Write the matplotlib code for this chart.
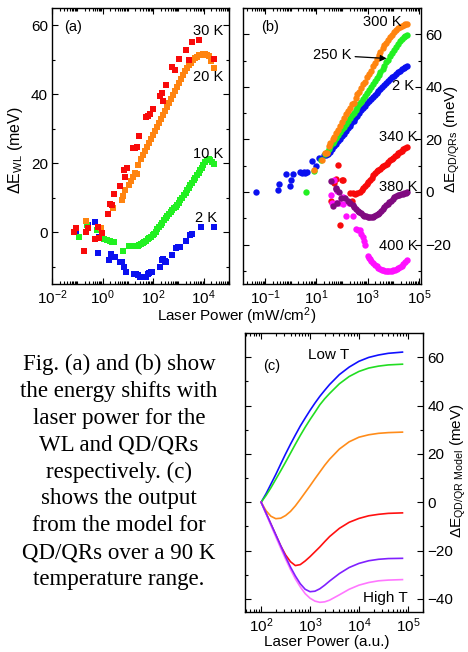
import numpy as np
import matplotlib
matplotlib.use("Agg")
import matplotlib.pyplot as plt
from matplotlib.ticker import FixedLocator, LogLocator, NullFormatter, MultipleLocator

plt.rcParams['font.family'] = ['Liberation Sans', 'DejaVu Sans']
plt.rcParams['mathtext.fontset'] = 'custom'
plt.rcParams['mathtext.rm'] = 'Liberation Sans'
plt.rcParams['mathtext.it'] = 'Liberation Sans:italic'
plt.rcParams['mathtext.default'] = 'regular'

# ---------------- Panel (a): WL shifts (log10 power, meV) ----------------
a30_logp = [-1.13, -1.06, -0.73, -0.67, -0.59, -0.29, -0.18, -0.16, -0.01, 0.22, 0.30, 0.38, 0.46, 0.69,
            0.84, 0.88, 0.98, 1.20, 1.29, 1.37, 1.44, 1.71, 1.80, 1.87, 2.00, 2.27, 2.34, 2.39, 2.50,
            2.75, 2.85, 3.02, 3.28, 3.42, 3.52, 3.83, 4.42]
a30_dE = [0.1, 1.1, -5.4, 0.2, 1.2, -2.1, 1.5, -1.8, -0.3, 5.2, 8.1, 7.8, 11.1, 13.4,
          17.9, 16.1, 18.7, 24.4, 24.5, 24.8, 27.9, 33.3, 33.6, 34.3, 35.8, 39.5, 40.3, 37.9, 42.6,
          47.8, 47.0, 50.3, 52.8, 50.0, 55.0, 55.7, 50.3]

a20_logp = [-0.65, -0.07, 0.42, 0.77, 0.81, 0.90, 1.03, 1.11, 1.20, 1.29, 1.36, 1.42, 1.50, 1.58,
            1.66, 1.74, 1.82, 1.90, 1.98, 2.06, 2.14, 2.22, 2.30, 2.38, 2.46, 2.54, 2.62, 2.70,
            2.78, 2.86, 2.94, 3.02, 3.10, 3.18, 3.26, 3.34, 3.42, 3.50, 3.58, 3.66, 3.74, 3.82,
            3.90, 3.98, 4.06, 4.14, 4.22, 4.30, 4.40]
a20_dE = [3.3, 1.2, 6.9, 9.3, 10.4, 12.2, 13.6, 14.9, 16.0, 17.2, 17.0, 19.4, 21.2, 22.4,
          23.6, 24.7, 25.9, 27.0, 28.2, 29.3, 30.5, 31.7, 32.8, 34.0, 35.1, 36.3, 37.5, 38.6,
          39.8, 40.9, 42.1, 43.2, 44.4, 45.5, 46.6, 47.6, 48.5, 49.2, 49.9, 50.4, 50.9, 51.3,
          51.5, 51.7, 51.7, 51.5, 51.0, 49.5, 47.6]

a10_logp = [-0.93, -0.61, -0.22, 0.04, 0.17, 0.30, 0.38, 0.44, 0.80, 1.06, 1.14, 1.22, 1.30, 1.39,
            1.46, 1.52, 1.58, 1.65, 1.72, 1.78, 1.85, 1.91, 1.98, 2.04, 2.11, 2.17, 2.24, 2.30,
            2.37, 2.43, 2.50, 2.56, 2.63, 2.69, 2.76, 2.82, 2.89, 2.95, 3.02, 3.08, 3.15, 3.21,
            3.28, 3.34, 3.41, 3.47, 3.54, 3.60, 3.67, 3.73, 3.80, 3.86, 3.93, 3.99, 4.05, 4.12,
            4.19, 4.26, 4.33, 4.40]
a10_dE = [-1.4, 2.0, 0.7, -1.9, -2.2, -2.5, -2.9, -2.8, -5.5, -4.1, -4.0, -4.0, -4.0, -4.1,
          -3.8, -3.5, -3.2, -2.8, -2.5, -2.1, -1.7, -1.35, -0.9, -0.4, 0.2, 0.8, 1.4, 2.0,
          2.8, 3.5, 4.0, 4.6, 5.3, 5.9, 6.4, 6.9, 7.4, 7.8, 8.6, 9.3, 10.0, 10.7,
          11.5, 12.2, 12.9, 13.6, 14.4, 15.1, 15.8, 16.5, 17.3, 18.0, 18.7, 19.4, 20.3, 21.0,
          21.2, 21.0, 20.4, 19.7]

a2_logp = [-1.06, -0.56, -0.30, -0.17, -0.13, 0.26, 0.35, 0.48, 0.68, 0.78, 0.85, 0.94, 1.23, 1.32,
           1.40, 1.48, 1.71, 1.78, 1.84, 1.90, 1.97, 2.27, 2.35, 2.39, 2.45, 2.50, 2.76, 2.89,
           2.98, 3.06, 3.31, 3.45, 3.54, 3.91, 4.42]
a2_dE = [0.0, 2.0, 3.0, -6.0, -1.5, -8.1, -6.4, -7.1, -8.6, -8.6, -10.2, -11.5, -12.0, -12.1,
         -12.4, -12.9, -12.9, -12.0, -11.7, -11.6, -11.5, -10.0, -8.0, -7.7, -8.3, -8.6, -6.6, -4.6,
         -4.4, -4.2, -2.4, -0.9, -0.6, 1.4, 1.4]

# ---------------- Panel (b): QD/QR shifts ----------------
b2_logp = [-1.35, -0.48, -0.44, -0.03, 0.0, -0.18, 0.10, 0.36, 0.43, 0.50, 0.55, 0.62, 0.83, 0.99, 1.12,
           1.30, 1.38, 1.47, 1.55, 1.62, 1.70, 1.77, 1.85, 1.92, 2.00, 2.07, 2.15, 2.22, 2.30, 2.37,
           2.45, 2.52, 2.60, 2.67, 2.75, 2.82, 2.90, 2.97, 3.05, 3.12, 3.20, 3.27, 3.35, 3.42,
           3.50, 3.57, 3.65, 3.72, 3.80, 3.87, 3.95, 4.02, 4.10, 4.17, 4.25, 4.32, 4.40, 4.47, 4.52]
b2_dE = [0.0, 0.75, 2.9, 2.3, 4.5, 6.7, 6.7, 7.5, 7.3, 7.6, 7.2, 7.5, 11.7, 9.9, 13.1,
         14.0, 14.2, 14.3, 15.4, 16.3, 17.4, 18.3, 19.3, 20.2, 21.3, 22.2, 23.2, 24.2, 25.2, 26.1,
         27.2, 28.1, 29.1, 30.1, 31.1, 32.0, 32.9, 33.7, 34.5, 35.2, 36.1, 36.8, 37.7, 38.4,
         39.3, 40.0, 40.8, 41.4, 42.1, 42.8, 43.6, 44.2, 44.9, 45.5, 46.2, 46.8, 47.3, 47.6, 48.0]

b250_logp = [0.60, 0.92, 1.17, 1.33, 1.40, 1.48, 1.55, 1.63, 1.70, 1.78, 1.85, 1.93, 2.00, 2.08, 2.15,
             2.23, 2.30, 2.38, 2.45, 2.53, 2.60, 2.68, 2.75, 2.83, 2.90, 2.98, 3.05, 3.13, 3.20,
             3.28, 3.35, 3.43, 3.50, 3.58, 3.65, 3.73, 3.80, 3.88, 3.95, 4.03, 4.10, 4.18, 4.25,
             4.33, 4.40, 4.47, 4.52]
b250_dE = [0.0, 8.0, 12.1, 14.5, 15.3, 16.4, 17.4, 18.5, 19.5, 20.7, 21.7, 22.8, 23.8, 24.9, 25.9,
           27.0, 28.0, 29.2, 30.2, 31.3, 32.3, 33.4, 34.4, 35.5, 36.6, 37.7, 38.8, 40.0, 41.1,
           42.3, 43.4, 44.6, 45.6, 46.9, 48.0, 49.3, 50.4, 51.6, 52.7, 53.9, 55.0, 56.2, 57.3,
           58.3, 59.0, 59.5, 59.7]

b300_logp = [0.91, 1.22, 1.40, 1.33, 1.48, 1.55, 1.63, 1.70, 1.78, 1.85, 1.93, 2.00, 2.08, 2.15, 2.23,
             2.30, 2.38, 2.45, 2.53, 2.60, 2.68, 2.75, 2.83, 2.90, 2.98, 3.05, 3.13, 3.20, 3.28,
             3.35, 3.43, 3.50, 3.58, 3.65, 3.73, 3.80, 3.88, 3.95, 4.03, 4.10, 4.18, 4.25, 4.33,
             4.40, 4.47, 4.52]
b300_dE = [8.3, 12.1, 14.8, 15.0, 17.5, 18.8, 20.0, 21.0, 22.5, 23.5, 25.2, 26.8, 28.0, 29.5, 30.8,
           31.8, 33.5, 34.0, 35.8, 37.2, 38.2, 39.5, 41.0, 42.0, 43.6, 45.0, 46.2, 47.8, 49.2,
           50.6, 52.0, 53.2, 54.6, 55.8, 56.8, 57.8, 58.9, 59.9, 60.9, 61.7, 62.4, 62.9, 63.3,
           63.6, 63.8, 63.8]

b340_logp = [1.58, 1.68, 1.77, 1.84, 1.91, 2.01, 2.05, 2.38, 2.31, 2.42, 2.51, 2.60, 2.70, 2.77, 2.83,
             2.90, 2.96, 3.03, 3.09, 3.16, 3.22, 3.29, 3.35, 3.42, 3.48, 3.55, 3.61, 3.68, 3.74,
             3.80, 3.87, 3.93, 4.00, 4.06, 4.13, 4.19, 4.26, 4.32, 4.39, 4.45, 4.52]
b340_dE = [-3.6, 3.5, 5.0, 10.2, -12.7, 4.5, 4.5, -3.4, -0.5, -0.5, -0.8, -0.5, 0.1, 0.8, 1.4,
           2.2, 3.0, 3.9, 4.7, 5.5, 6.4, 7.2, 7.8, 8.4, 8.9, 9.5, 10.0, 10.4, 10.8,
           11.4, 12.0, 12.6, 13.1, 13.6, 14.2, 14.7, 15.2, 15.7, 16.2, 16.7, 17.1]

b380_logp = [1.58, 1.65, 1.75, 1.77, 1.82, 1.90, 1.95, 2.12, 2.25, 2.33, 2.42, 2.48, 2.55, 2.61, 2.68,
             2.74, 2.81, 2.87, 2.94, 3.00, 3.07, 3.13, 3.20, 3.26, 3.33, 3.39, 3.46, 3.52, 3.59,
             3.65, 3.72, 3.78, 3.85, 3.91, 3.98, 4.04, 4.11, 4.17, 4.24, 4.30, 4.37, 4.43, 4.50, 4.54]
b380_dE = [4.3, -5.3, 1.4, 1.0, -4.3, 0.1, -2.4, -2.4, -3.6, -4.3, -4.9, -5.8, -6.5, -7.1, -7.7,
           -8.0, -8.6, -9.0, -9.3, -9.6, -9.7, -9.7, -9.5, -9.2, -8.8, -8.3, -7.8, -7.1, -6.5,
           -5.8, -5.1, -4.6, -3.9, -3.3, -2.6, -2.0, -1.6, -1.3, -1.0, -0.8, -0.6, -0.4, -0.2, -0.1]

b400_logp = [1.68, 1.58, 1.62, 1.82, 1.77, 1.90, 2.04, 2.05, 2.16, 2.29, 2.44, 2.55, 2.62, 2.70, 2.76,
             2.81, 2.86, 2.90, 3.00, 3.04, 3.09, 3.15, 3.22, 3.28, 3.35, 3.41, 3.48, 3.54, 3.61,
             3.67, 3.74, 3.80, 3.87, 3.93, 4.00, 4.06, 4.13, 4.19, 4.26, 4.32, 4.39, 4.45, 4.52]
b400_dE = [4.5, -1.1, -4.2, 0.5, -4.3, -4.3, -4.5, -1.8, -9.1, -4.3, -9.3, -14.1, -14.3, -14.6, -16.0,
           -17.1, -18.5, -20.0, -24.4, -25.0, -25.4, -26.2, -26.9, -27.6, -28.2, -28.8, -29.2, -29.5, -29.8,
           -30.0, -30.1, -30.1, -30.1, -30.0, -29.8, -29.5, -29.2, -28.9, -28.6, -28.1, -27.5, -26.8, -25.7]

# ---------------- Panel (c): model curves ----------------
c_logp = [2.0, 2.1, 2.2, 2.3, 2.4, 2.5, 2.6, 2.7, 2.8, 2.9, 3.0, 3.1, 3.2, 3.3, 3.4, 3.6, 3.8, 4.0,
          4.2, 4.4, 4.6, 4.89]
c_blue = [0, 3.5, 7.5, 11.5, 15.8, 20.0, 24.0, 27.8, 31.5, 34.8, 38.0, 41.0, 43.8, 46.3, 48.7, 52.8,
          55.9, 58.3, 59.9, 60.9, 61.6, 62.1]
c_green = [0, 2.8, 6.0, 9.5, 13.0, 16.6, 20.3, 24.0, 27.6, 31.0, 34.2, 37.2, 40.3, 42.8, 45.0, 49.0,
           52.0, 54.1, 55.5, 56.3, 56.8, 57.1]
c_orange = [0, -3.5, -5.8, -6.8, -6.6, -5.5, -3.8, -1.5, 1.2, 4.0, 6.8, 9.7, 12.5, 15.3, 17.8, 22.0,
            25.0, 26.9, 27.9, 28.5, 28.8, 29.0]
c_red = [0, -4.5, -9.0, -13.5, -18.0, -21.8, -24.6, -26.2, -25.8, -24.3, -22.5, -20.5, -18.5, -16.3,
         -14.2, -10.8, -8.3, -6.7, -5.6, -5.0, -4.6, -4.4]
c_violet = [0, -4.5, -9.0, -13.5, -18.0, -22.5, -26.8, -30.5, -33.7, -36.0, -37.0, -36.8, -35.8, -34.3,
            -32.6, -29.5, -27.0, -25.3, -24.2, -23.6, -23.3, -23.2]
c_pink = [0, -4.8, -9.6, -14.3, -19.0, -23.5, -27.8, -31.7, -35.0, -37.8, -39.7, -40.9, -41.4, -41.2,
          -40.5, -38.3, -36.0, -34.3, -33.2, -32.5, -32.2, -32.0]

W, H = 468, 652
fig = plt.figure(figsize=(W / 100, H / 100), dpi=100)


def ax_at(l, t, r, b):
    return fig.add_axes([l / W, 1 - b / H, (r - l) / W, (b - t) / H])


def style(ax, majors, ylim, ymaj):
    ax.set_xscale('log')
    ax.xaxis.set_major_locator(FixedLocator(majors))
    ax.xaxis.set_minor_locator(LogLocator(base=10, subs=np.arange(1, 10), numticks=100))
    ax.xaxis.set_minor_formatter(NullFormatter())
    ax.set_ylim(*ylim)
    ax.yaxis.set_major_locator(MultipleLocator(ymaj))
    ax.yaxis.set_minor_locator(MultipleLocator(ymaj / 2))
    ax.tick_params(which='both', direction='in', top=True, right=True, left=True, bottom=True,
                   labelsize=11, width=0.8, pad=3)
    ax.tick_params(which='major', length=4)
    ax.tick_params(which='minor', length=2)
    for s in ax.spines.values():
        s.set_linewidth(1.0)


P = lambda v: 10 ** np.asarray(v)
LBL = 11

# (a)
axa = ax_at(52, 8, 229, 284)
style(axa, [1e-2, 1e0, 1e2, 1e4], (-15, 65), 20)
axa.set_xlim(1e-2, 1e5)
ms_a = 4.3
axa.plot(P(a2_logp), a2_dE, 's', color='#0a10f0', ms=ms_a, mew=0)
axa.plot(P(a10_logp), a10_dE, 's', color='#22f022', ms=ms_a, mew=0)
axa.plot(P(a20_logp), a20_dE, 's', color='#ff8410', ms=ms_a, mew=0)
axa.plot(P(a30_logp), a30_dE, 's', color='#f80a0a', ms=ms_a, mew=0)
axa.text(0.12, 0.93, '(a)', transform=axa.transAxes, fontsize=10.5, ha='center', va='center')
for lbl, lx, ly in [('30 K', 10 ** 4.16, 58.4), ('20 K', 10 ** 4.16, 45.0),
                    ('10 K', 10 ** 4.16, 22.6), ('2 K', 10 ** 4.1, 4.0)]:
    axa.text(lx, ly, lbl, fontsize=10.5, ha='center', va='center')
fig.text(16 / W, 1 - 150 / H, r'$\Delta$E$_{WL}$ (meV)', fontsize=LBL + 0.5, rotation=90,
         ha='center', va='center')

# (b)
axb = ax_at(243, 8, 421, 284)
style(axb, [1e-1, 1e1, 1e3, 1e5], (-35, 70), 20)
axb.set_xlim(10 ** -1.86, 10 ** 5.08)
axb.tick_params(labelleft=False, labelright=True)
ms_b = 4.6
axb.plot(P(b2_logp), b2_dE, 'o', color='#0a10f0', ms=ms_b, mew=0)
axb.plot(P(b250_logp), b250_dE, 'o', color='#22f022', ms=ms_b, mew=0)
axb.plot(P(b300_logp), b300_dE, 'o', color='#ff8410', ms=ms_b, mew=0)
axb.plot(P(b340_logp), b340_dE, 'o', color='#f80a0a', ms=ms_b, mew=0)
axb.plot(P(b400_logp), b400_dE, 'o', color='#ff10ff', ms=ms_b, mew=0)
axb.plot(P(b380_logp), b380_dE, 'o', color='#800a80', ms=ms_b, mew=0)
axb.text(0.15, 0.93, '(b)', transform=axb.transAxes, fontsize=10.5, ha='center', va='center')
for lbl, lx, ly in [('300 K', 10 ** 3.55, 64.6), ('2 K', 10 ** 4.39, 40.4), ('340 K', 10 ** 4.2, 21.1),
                    ('380 K', 10 ** 4.2, 1.8), ('400 K', 10 ** 4.2, -20.4)]:
    axb.text(lx, ly, lbl, fontsize=10.5, ha='center', va='center')
axb.annotate('250 K', xy=(10 ** 3.74, 50.8), xytext=(10 ** 2.35, 52.0), fontsize=10.5,
             ha='right', va='center',
             arrowprops=dict(arrowstyle='-|>', color='black', lw=0.9, mutation_scale=9,
                             shrinkA=1, shrinkB=0))
fig.text(452 / W, 1 - 139 / H, r'$\Delta$E$_{QD/QRs}$ (meV)', fontsize=LBL, rotation=90,
         ha='center', va='center')

fig.text(237 / W, 1 - 316 / H, 'Laser Power (mW/cm$^2$)', fontsize=LBL, ha='center', va='center')

# (c)
axc = ax_at(245, 333, 423, 612)
style(axc, [1e2, 1e3, 1e4, 1e5], (-45.4, 70), 20)
axc.set_xlim(10 ** 1.67, 10 ** 5.31)
axc.tick_params(labelleft=False, labelright=True)
for vals, col in [(c_blue, '#1010ff'), (c_green, '#22dd22'), (c_orange, '#ff8c1a'),
                  (c_red, '#ff1010'), (c_pink, '#ff77ff'), (c_violet, '#8020ff')]:
    axc.plot(P(c_logp), vals, '-', color=col, lw=1.2)
axc.text(0.15, 0.88, '(c)', transform=axc.transAxes, fontsize=10.5, ha='center', va='center')
axc.text(0.47, 0.92, 'Low T', transform=axc.transAxes, fontsize=11, ha='center', va='center')
axc.text(0.79, 0.05, 'High T', transform=axc.transAxes, fontsize=11, ha='center', va='center')
fig.text(458 / W, 1 - 471 / H, r'$\Delta$E$_{QD/QR\ Model}$ (meV)', fontsize=LBL, rotation=90,
         ha='center', va='center')
fig.text(327 / W, 1 - 642 / H, 'Laser Power (a.u.)', fontsize=LBL, ha='center', va='center')

caption = ("Fig. (a) and (b) show\nthe energy shifts with\nlaser power for the\nWL and QD/QRs\n"
           "respectively. (c)\nshows the output\nfrom the model for\nQD/QRs over a 90 K\n"
           "temperature range.")
fig.text(119 / W, 1 - 472 / H, caption, fontsize=16.5, family=['Liberation Serif', 'DejaVu Serif'],
         ha='center', va='center', linespacing=1.36, multialignment='center')

fig.savefig('out.png', dpi=100)
